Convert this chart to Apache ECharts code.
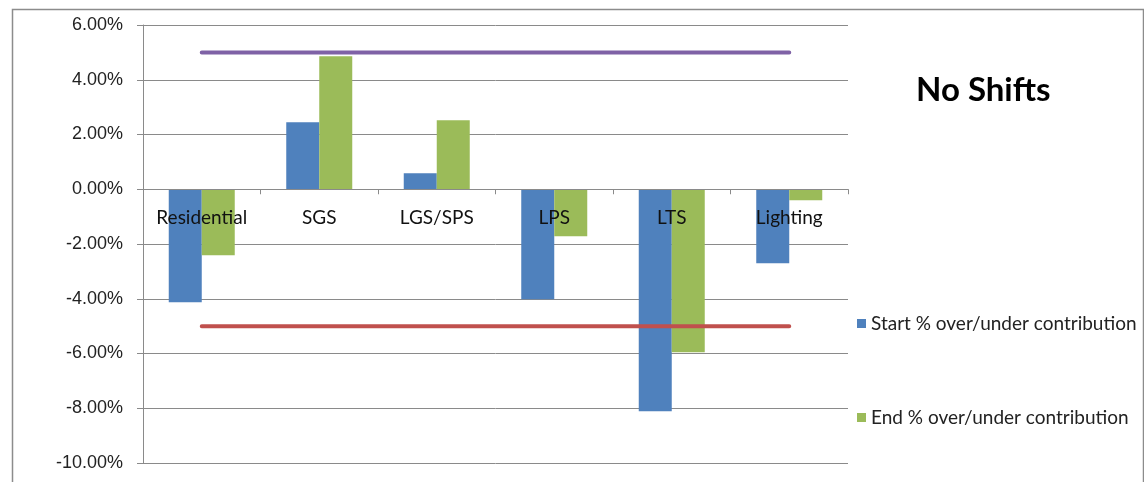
<!DOCTYPE html>
<html>
<head>
<meta charset="utf-8">
<script src="https://cdn.jsdelivr.net/npm/echarts@6/dist/echarts.min.js"></script>
<style>
html,body{margin:0;padding:0;background:#fff;}
#c{width:1144px;height:482px;}
</style>
</head>
<body>
<div id="c"></div>
<script>
const categories = ['Residential', 'SGS', 'LGS/SPS', 'LPS', 'LTS', 'Lighting'];
const startValues = [-4.13, 2.45, 0.58, -4.02, -8.11, -2.70];
const endValues = [-2.41, 4.86, 2.52, -1.72, -5.95, -0.40];
const upperLimit = [5, 5, 5, 5, 5, 5];
const lowerLimit = [-5, -5, -5, -5, -5, -5];
const yTicks = { min: -10, max: 6, interval: 2 };

const FONT = 'Lato, "Open Sans", sans-serif';
const GRID = { left: 143, right: 296, top: 25, bottom: 19 };
const gridH = 482 - GRID.top - GRID.bottom;
const zeroOffset = -(0 - yTicks.min) / (yTicks.max - yTicks.min) * gridH;

const chart = echarts.init(document.getElementById('c'), null, { renderer: 'canvas' });
chart.setOption({
  animation: false,
  backgroundColor: '#fff',
  graphic: [{
    type: 'rect', left: 10, top: 7, z: -10,
    shape: { width: 1131, height: 500 },
    style: { fill: 'none', stroke: '#8c8c8c', lineWidth: 1.5 }
  }],
  title: {
    text: 'No Shifts', left: 911, top: 69,
    textStyle: { fontFamily: FONT, fontWeight: 'bold', fontSize: 33, color: '#000' }
  },
  legend: {
    orient: 'vertical', left: 852, top: 309,
    itemWidth: 9, itemHeight: 9, itemGap: 75,
    icon: 'rect',
    data: ['Start % over/under contribution', 'End % over/under contribution'],
    textStyle: { fontFamily: FONT, fontSize: 19, color: '#222' }
  },
  grid: Object.assign({ containLabel: false, outerBoundsMode: 'none' }, GRID),
  xAxis: {
    type: 'category', data: categories, z: 10,
    position: 'bottom', offset: zeroOffset,
    axisLine: { onZero: false, lineStyle: { color: '#8a8a8a', width: 1 } },
    axisTick: { show: true, length: 5, lineStyle: { color: '#8a8a8a' } },
    axisLabel: { interval: 0, hideOverlap: false, margin: 19, fontFamily: FONT, fontSize: 19, color: '#111' },
    splitLine: { show: false }
  },
  yAxis: {
    type: 'value', min: yTicks.min, max: yTicks.max, interval: yTicks.interval,
    axisLine: { show: true, lineStyle: { color: '#8a8a8a', width: 1 } },
    axisTick: { show: true, inside: false, length: 6, lineStyle: { color: '#8a8a8a' } },
    axisLabel: { margin: 20, fontFamily: '"Liberation Sans Narrow", "Liberation Sans", Arial, sans-serif', fontSize: 18, color: '#222',
      formatter: v => v.toFixed(2) + '%' },
    splitLine: { show: true, lineStyle: { color: '#8a8a8a', width: 1 } }
  },
  series: [
    { name: 'Start % over/under contribution', type: 'bar', data: startValues,
      barWidth: 33, barGap: '0%', itemStyle: { color: '#4F81BD' } },
    { name: 'End % over/under contribution', type: 'bar', data: endValues,
      barWidth: 33, barGap: '0%', itemStyle: { color: '#9BBB59' } },
    { name: 'Upper', type: 'line', data: upperLimit, symbol: 'none', z: 5,
      lineStyle: { color: '#7F62A6', width: 4, cap: 'round' } },
    { name: 'Lower', type: 'line', data: lowerLimit, symbol: 'none', z: 5,
      lineStyle: { color: '#C0504D', width: 4, cap: 'round' } }
  ]
});
</script>
</body>
</html>
